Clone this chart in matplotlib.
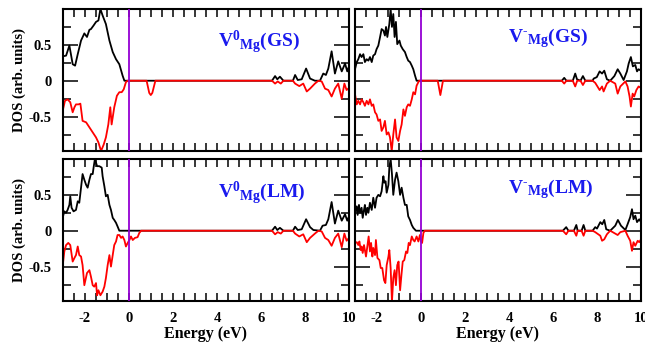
import matplotlib
matplotlib.use("Agg")
import matplotlib.pyplot as plt
from matplotlib.ticker import MultipleLocator, FixedLocator

plt.rcParams['font.family'] = ['Liberation Serif', 'DejaVu Serif']
plt.rcParams['font.weight'] = 'bold'
plt.rcParams['mathtext.fontset'] = 'custom'
plt.rcParams['mathtext.bf'] = 'Liberation Serif:bold'
plt.rcParams['mathtext.rm'] = 'Liberation Serif:bold'
plt.rcParams['axes.unicode_minus'] = False

# ---------------- data ----------------
# Top-left: V0_Mg (GS)
tl_up_e = [-3.0, -2.86, -2.71, -2.64, -2.56, -2.45, -2.33, -2.18, -2.03, -1.91, -1.80, -1.73, -1.61, -1.50,
           -1.39, -1.30, -1.20, -1.05, -0.89, -0.74, -0.59, -0.44, -0.29, -0.21,
           6.5, 6.64, 6.74, 6.86, 7.02, 7.45, 7.55, 7.67, 7.85, 8.05, 8.23, 8.45, 8.68, 8.83, 8.95, 9.06,
           9.21, 9.36, 9.51, 9.67, 9.82, 9.92, 10.0]
tl_up_v = [0.34, 0.35, 0.49, 0.37, 0.23, 0.21, 0.37, 0.56, 0.66, 0.61, 0.71, 0.72, 0.77, 0.82,
           0.84, 1.0, 0.91, 0.79, 0.56, 0.40, 0.30, 0.23, 0.07, 0.0,
           0.0, 0.065, 0.02, 0.056, 0.0, 0.0, 0.08, 0.01, 0.02, 0.17, 0.03, 0.0, 0.0, 0.10, 0.08, 0.17,
           0.41, 0.10, 0.27, 0.13, 0.24, 0.13, 0.20]
tl_dn_e = [-3.0, -2.91, -2.79, -2.67, -2.56, -2.48, -2.41, -2.30, -2.21, -2.11, -1.95, -1.80, -1.65, -1.50,
           -1.39, -1.27, -1.15, -1.05, -0.94, -0.85, -0.79, -0.67, -0.55, -0.44, -0.33, -0.24, -0.14, -0.06,
           0.8, 0.92, 0.99, 1.06, 1.2,
           6.5, 6.64, 6.76, 6.9, 7.02, 7.45, 7.55, 7.74, 7.92, 8.08, 8.23, 8.45, 8.61, 8.76, 8.91, 9.06,
           9.21, 9.36, 9.51, 9.67, 9.79, 9.89, 10.0]
tl_dn_v = [-0.40, -0.28, -0.26, -0.30, -0.44, -0.37, -0.33, -0.33, -0.32, -0.56, -0.58, -0.65, -0.72, -0.79,
           -0.86, -0.98, -0.89, -0.79, -0.61, -0.37, -0.61, -0.37, -0.21, -0.16, -0.16, -0.12, -0.02, 0.0,
           0.0, -0.17, -0.20, -0.17, 0.0,
           0.0, -0.04, -0.01, -0.04, 0.0, 0.0, -0.04, -0.075, -0.04, -0.15, -0.11, -0.04, 0.0, -0.01, -0.11, -0.13,
           -0.22, -0.11, -0.04, -0.25, -0.04, -0.13, -0.10]

# Top-right: V-_Mg (GS)
tr_up_e = [-3.0, -2.92, -2.85, -2.77, -2.70, -2.62, -2.55, -2.47, -2.39, -2.32, -2.24, -2.17, -2.09, -2.02,
           -1.94, -1.86, -1.79, -1.71, -1.64, -1.59, -1.53, -1.44, -1.38, -1.32, -1.26, -1.20, -1.14, -1.08,
           -0.98, -0.92, -0.83, -0.73, -0.65, -0.58, -0.50, -0.42, -0.35, -0.27, -0.20,
           6.4, 6.51, 6.61, 6.9, 7.01, 7.09, 7.25, 7.36, 7.47, 7.8, 7.85, 7.99, 8.12, 8.23, 8.33, 8.45, 8.6,
           8.79, 8.94, 9.06, 9.21, 9.36, 9.44, 9.54, 9.63, 9.74, 9.82, 9.89, 10.0]
tr_up_v = [0.16, 0.26, 0.30, 0.37, 0.33, 0.37, 0.26, 0.30, 0.28, 0.33, 0.26, 0.35, 0.37, 0.44,
           0.49, 0.61, 0.72, 0.70, 0.63, 0.75, 0.61, 0.79, 1.0, 0.75, 0.93, 0.61, 0.82, 0.51,
           0.56, 0.49, 0.44, 0.40, 0.33, 0.28, 0.26, 0.21, 0.16, 0.07, 0.0,
           0.0, 0.04, 0.0, 0.0, 0.10, 0.02, 0.0, 0.065, 0.0, 0.0, 0.03, 0.05, 0.13, 0.10, 0.14, 0.02, 0.0,
           0.065, 0.16, 0.10, 0.01, 0.13, 0.24, 0.33, 0.20, 0.22, 0.13, 0.16, 0.14]
tr_dn_e = [-3.0, -2.92, -2.85, -2.77, -2.70, -2.62, -2.55, -2.47, -2.39, -2.32, -2.24, -2.17, -2.09, -2.02,
           -1.94, -1.86, -1.79, -1.71, -1.64, -1.56, -1.48, -1.41, -1.33, -1.26, -1.18, -1.11, -1.03, -0.95,
           -0.88, -0.80, -0.73, -0.65, -0.58, -0.50, -0.42, -0.35, -0.27, -0.20, -0.12, -0.08,
           0.76, 0.88, 1.0,
           6.4, 6.51, 6.61, 6.9, 7.01, 7.1, 7.25, 7.36, 7.47, 7.8, 7.92, 8.12, 8.23, 8.30, 8.45, 8.6,
           8.83, 8.94, 9.06, 9.29, 9.39, 9.48, 9.54, 9.62, 9.69, 9.79, 9.89, 10.0]
tr_dn_v = [-0.19, -0.33, -0.28, -0.33, -0.26, -0.30, -0.35, -0.28, -0.33, -0.26, -0.35, -0.33, -0.44, -0.47,
           -0.56, -0.54, -0.70, -0.65, -0.56, -0.75, -0.72, -0.79, -0.98, -0.75, -0.54, -0.79, -0.84, -0.70,
           -0.61, -0.40, -0.49, -0.37, -0.33, -0.35, -0.26, -0.16, -0.19, -0.07, -0.02, 0.0,
           0.0, -0.20, 0.0,
           0.0, -0.04, 0.0, 0.0, -0.08, 0.0, 0.0, -0.06, 0.0, 0.0, -0.03, -0.13, -0.08, -0.15, -0.04, 0.0,
           -0.04, -0.18, -0.08, -0.01, -0.08, -0.22, -0.36, -0.18, -0.22, -0.13, -0.08, -0.10]

# Bottom-left: V0_Mg (LM)
bl_up_e = [-3.0, -2.94, -2.86, -2.79, -2.71, -2.67, -2.61, -2.52, -2.41, -2.33, -2.26, -2.18, -2.11, -2.03,
           -1.95, -1.88, -1.80, -1.73, -1.65, -1.61, -1.55, -1.45, -1.35, -1.24, -1.20, -1.12, -1.05, -0.97,
           -0.89, -0.82, -0.74, -0.67, -0.59, -0.52, -0.44,
           6.5, 6.64, 6.74, 6.86, 7.02, 7.45, 7.55, 7.67, 7.85, 8.05, 8.23, 8.38, 8.68, 8.80, 8.95, 9.06,
           9.21, 9.36, 9.51, 9.67, 9.82, 9.92, 10.0]
bl_up_v = [0.20, 0.27, 0.25, 0.29, 0.36, 0.48, 0.32, 0.27, 0.29, 0.41, 0.39, 0.60, 0.79, 0.71,
           0.64, 0.60, 0.71, 0.79, 0.79, 0.88, 1.0, 0.90, 0.90, 0.88, 0.76, 0.62, 0.48, 0.50,
           0.36, 0.29, 0.18, 0.15, 0.11, 0.06, 0.0,
           0.0, 0.056, 0.01, 0.04, 0.0, 0.0, 0.056, 0.01, 0.02, 0.16, 0.05, 0.01, 0.0, 0.07, 0.08, 0.16,
           0.40, 0.10, 0.28, 0.14, 0.23, 0.14, 0.20]
bl_dn_e = [-3.0, -2.94, -2.86, -2.76, -2.67, -2.56, -2.48, -2.41, -2.33, -2.26, -2.18, -2.11, -2.03, -1.91,
           -1.80, -1.73, -1.65, -1.58, -1.50, -1.45, -1.39, -1.30, -1.20, -1.12, -1.05, -0.97, -0.89, -0.82,
           -0.74, -0.67, -0.59, -0.52, -0.44, -0.36, -0.29, -0.21, -0.14, -0.06, 0.02, 0.09, 0.17, 0.27,
           0.39, 0.47, 0.55,
           6.5, 6.64, 6.76, 6.9, 7.02, 7.45, 7.55, 7.74, 7.92, 8.08, 8.23, 8.45, 8.61, 8.76, 8.91, 9.06,
           9.21, 9.36, 9.51, 9.67, 9.79, 9.89, 10.0]
bl_dn_v = [-0.45, -0.29, -0.20, -0.17, -0.20, -0.43, -0.38, -0.34, -0.22, -0.34, -0.36, -0.48, -0.76, -0.59,
           -0.55, -0.64, -0.76, -0.78, -0.73, -0.90, -0.83, -0.90, -0.85, -0.78, -0.66, -0.48, -0.34, -0.50,
           -0.34, -0.20, -0.15, -0.06, -0.06, -0.10, -0.08, -0.13, -0.22, -0.17, -0.13, -0.08, -0.13, -0.10,
           -0.09, -0.03, 0.0,
           0.0, -0.05, -0.02, -0.04, 0.0, 0.0, -0.04, -0.08, -0.05, -0.16, -0.10, -0.04, 0.0, -0.01, -0.10, -0.13,
           -0.21, -0.10, -0.04, -0.23, -0.04, -0.14, -0.10]

# Bottom-right: V-_Mg (LM)
br_up_e = [-3.0, -2.92, -2.88, -2.82, -2.77, -2.70, -2.65, -2.59, -2.55, -2.50, -2.44, -2.39, -2.32, -2.24,
           -2.17, -2.09, -2.02, -1.94, -1.86, -1.79, -1.71, -1.67, -1.61, -1.56, -1.48, -1.44, -1.38, -1.32,
           -1.26, -1.18, -1.11, -1.03, -0.95, -0.88, -0.80, -0.73, -0.65, -0.58, -0.50, -0.42, -0.35, -0.23,
           6.45, 6.60, 6.7, 6.95, 7.06, 7.12, 7.3, 7.39, 7.47, 7.8, 7.92, 8.0, 8.15, 8.24, 8.33, 8.42, 8.60,
           8.83, 8.95, 9.09, 9.29, 9.39, 9.51, 9.59, 9.66, 9.74, 9.82, 9.92, 10.0]
br_up_v = [0.25, 0.34, 0.22, 0.36, 0.25, 0.32, 0.18, 0.29, 0.36, 0.22, 0.32, 0.25, 0.39, 0.29,
           0.46, 0.32, 0.46, 0.50, 0.48, 0.55, 0.76, 0.67, 0.69, 0.53, 0.64, 0.88, 1.0, 0.79,
           0.50, 0.71, 0.81, 0.69, 0.50, 0.60, 0.46, 0.36, 0.36, 0.20, 0.15, 0.08, 0.04, 0.0,
           0.0, 0.05, 0.0, 0.0, 0.08, 0.0, 0.0, 0.08, 0.0, 0.0, 0.05, 0.03, 0.12, 0.09, 0.15, 0.02, 0.0,
           0.07, 0.15, 0.07, 0.01, 0.09, 0.19, 0.30, 0.16, 0.21, 0.12, 0.16, 0.12]
br_dn_e = [-3.0, -2.92, -2.85, -2.80, -2.74, -2.70, -2.65, -2.59, -2.50, -2.44, -2.38, -2.32, -2.27, -2.21,
           -2.17, -2.09, -2.05, -1.98, -1.89, -1.83, -1.76, -1.68, -1.62, -1.56, -1.48, -1.44, -1.38, -1.32,
           -1.26, -1.20, -1.14, -1.08, -1.02, -0.95, -0.89, -0.83, -0.76, -0.68, -0.62, -0.56, -0.50, -0.42,
           -0.35, -0.29, -0.20, -0.12, -0.05, 0.0, 0.05, 0.11, 0.17,
           6.45, 6.60, 6.7, 6.95, 7.06, 7.12, 7.3, 7.39, 7.47, 7.8, 7.92, 8.15, 8.23, 8.33, 8.45, 8.6,
           8.94, 9.06, 9.29, 9.39, 9.51, 9.59, 9.66, 9.74, 9.85, 9.92, 10.0]
br_dn_v = [-0.17, -0.16, -0.20, -0.15, -0.27, -0.22, -0.31, -0.20, -0.36, -0.22, -0.08, -0.29, -0.17, -0.36,
           -0.24, -0.34, -0.13, -0.38, -0.41, -0.52, -0.52, -0.69, -0.73, -0.48, -0.36, -0.27, -0.52, -0.99,
           -0.66, -0.55, -0.76, -0.48, -0.43, -0.83, -0.62, -0.43, -0.41, -0.29, -0.31, -0.17, -0.20, -0.08,
           -0.13, -0.15, -0.08, -0.15, -0.06, -0.15, -0.17, -0.03, 0.0,
           0.0, -0.05, 0.0, 0.0, -0.07, 0.0, 0.0, -0.07, 0.0, 0.0, -0.02, -0.07, -0.14, -0.12, -0.05, 0.0,
           -0.06, -0.02, 0.0, -0.07, -0.14, -0.28, -0.16, -0.21, -0.14, -0.16, -0.12]

panel_labels = [r'$\mathbf{V^{0}{}_{Mg}}$(GS)', '$\\mathbf{V^{\u2010}{}_{Mg}}$(GS)',
                r'$\mathbf{V^{0}{}_{Mg}}$(LM)', '$\\mathbf{V^{\u2010}{}_{Mg}}$(LM)']
xtick_vals = [-2, 0, 2, 4, 6, 8, 10]
ytick_vals = [-0.5, 0, 0.5]
ytick_labels = ['-0.5', '0', '0.5']

# ---------------- figure ----------------
W, H = 645, 345
fig = plt.figure(figsize=(W / 100, H / 100), dpi=100)

def rect(x0, y0, x1, y1):
    return [x0 / W, 1 - y1 / H, (x1 - x0) / W, (y1 - y0) / H]

axes = [fig.add_axes(rect(63, 9, 349, 151)), fig.add_axes(rect(355, 9, 641, 151)),
        fig.add_axes(rect(63, 159, 349, 301)), fig.add_axes(rect(355, 159, 641, 301))]

data = [(tl_up_e, tl_up_v, tl_dn_e, tl_dn_v), (tr_up_e, tr_up_v, tr_dn_e, tr_dn_v),
        (bl_up_e, bl_up_v, bl_dn_e, bl_dn_v), (br_up_e, br_up_v, br_dn_e, br_dn_v)]
label_pos = [(4.05, 0.46), (3.95, 0.53), (4.05, 0.45), (3.95, 0.52)]

for i, (ax, (ue, uv, de, dv)) in enumerate(zip(axes, data)):
    ax.plot(ue, uv, color='black', lw=1.3, zorder=2)
    ax.plot(de, dv, color='red', lw=1.3, zorder=2.1)
    ax.axvline(0, color='#9400d3', lw=1.3, zorder=3)
    ax.set_xlim(-3, 10)
    ax.set_ylim(-0.98, 1.0)
    ax.xaxis.set_major_locator(FixedLocator(xtick_vals))
    ax.xaxis.set_minor_locator(MultipleLocator(0.5))
    ax.yaxis.set_major_locator(FixedLocator(ytick_vals))
    ax.yaxis.set_minor_locator(MultipleLocator(0.25))
    ax.tick_params(which='both', direction='in', top=True, right=True, width=1.1)
    ax.tick_params(axis='x', which='both', length=5.5)
    ax.tick_params(axis='y', which='major', length=11)
    ax.tick_params(axis='y', which='minor', length=5.5)
    ax.tick_params(axis='both', labelsize=10.5, pad=8)
    for s in ax.spines.values():
        s.set_linewidth(1.5)
    if i % 2 == 0:
        ax.set_yticklabels(ytick_labels)
        ax.set_ylabel('DOS (arb. units)', fontsize=10.5, fontweight='bold', labelpad=2)
    else:
        ax.set_yticklabels([])
    if i >= 2:
        ax.set_xticklabels([str(v) for v in xtick_vals])
        ax.set_xlabel('Energy (eV)', fontsize=11.5, fontweight='bold', labelpad=1)
    else:
        ax.set_xticklabels([])
    lx, ly = label_pos[i]
    ax.text(lx, ly, panel_labels[i], color='#1a1aee', fontsize=14, fontweight='bold',
            ha='left', va='baseline')

fig.savefig('out.png', dpi=100)
